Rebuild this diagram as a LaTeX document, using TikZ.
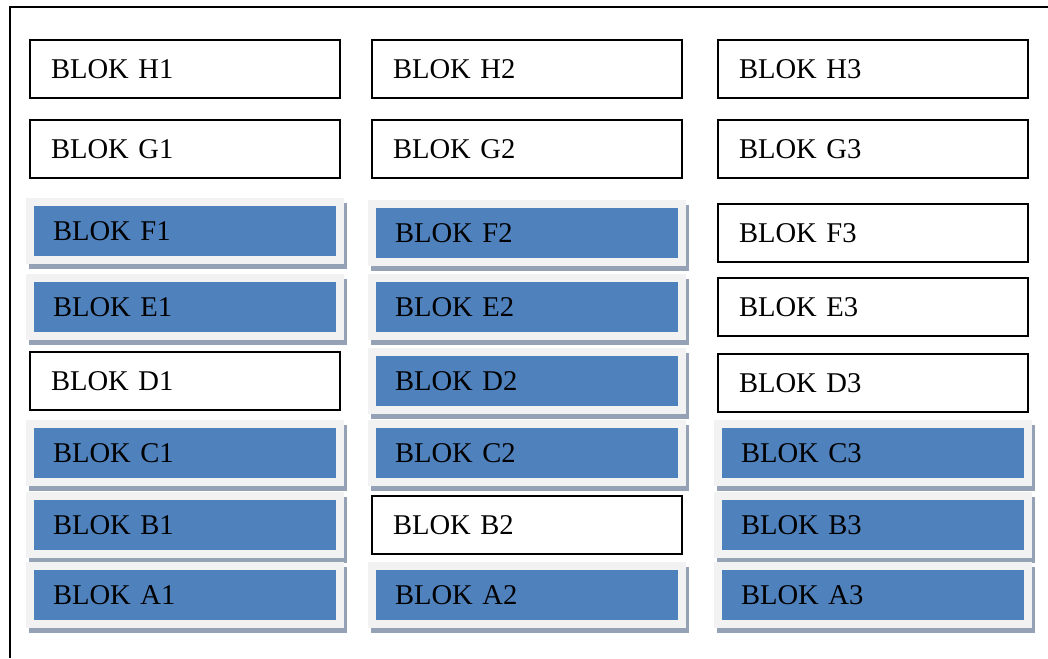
\documentclass[tikz,border=0pt]{standalone}
\usepackage{fontspec}
\setmainfont{Liberation Serif}
\usetikzlibrary{shadows}
\definecolor{blokblue}{RGB}{79,129,189}
\definecolor{bloklight}{RGB}{242,242,242}
\definecolor{blokshadow}{RGB}{149,161,180}
\newcommand{\widthplain}{155pt}
\newcommand{\widthfilled}{159pt}
\newcommand{\heightplain}{29pt}
\newcommand{\heightfilled}{33pt}
\tikzset{
    common/.style={anchor=north west, inner ysep=0pt, outer sep=0pt, align=left,
        font=\fontsize{14.3pt}{17pt}\selectfont},
    plain/.style={common, draw, line width=1pt, minimum width=\widthplain,
        minimum height=\heightplain, inner xsep=10.5pt, text width=134pt},
    filled/.style={common, fill=bloklight, minimum width=\widthfilled,
        minimum height=\heightfilled, inner xsep=13.5pt, text width=132pt,
        drop shadow={shadow xshift=1.25pt, shadow yshift=-2.5pt, fill=blokshadow, opacity=1},
        path picture={
            \fill[blokblue]
                ([shift={(4pt,4pt)}]path picture bounding box.south west)
                rectangle ([shift={(-4pt,-4pt)}]path picture bounding box.north east);
        }
    },
    frame/.style={line width=1pt}
}
\begin{document}
\begin{tikzpicture}[x=0.5pt, y=0.5pt]
        \useasboundingbox (0,0) rectangle (1048,-658);
        \draw[frame] (1048,-7) -| (10,-658);

        % column 1
        \path
            (30,-40) node[plain] (H1) {BLOK H1}
            to ++(0,-80) node[plain] (G1) {BLOK G1}
            to ++(-4,-78) node[filled] (F1) {BLOK F1}
            to ++(0,-76) node[filled] (E1) {BLOK E1}
            to ++(4,-78) node[plain] (D1) {BLOK D1}
            to ++(-4,-68) node[filled] (C1) {BLOK C1}
            to ++(0,-72) node[filled] (B1) {BLOK B1}
            to ++(0,-70) node[filled] (A1) {BLOK A1};

        % column 2
        \path
            (372,-40) node[plain] (H2) {BLOK H2}
            to ++(0,-80) node[plain] (G2) {BLOK G2}
            to ++(-4,-80) node[filled] (F2) {BLOK F2}
            to ++(0,-74) node[filled] (E2) {BLOK E2}
            to ++(0,-74) node[filled] (D2) {BLOK D2}
            to ++(0,-72) node[filled] (C2) {BLOK C2}
            to ++(4,-76) node[plain] (B2) {BLOK B2}
            to ++(-4,-66) node[filled] (A2) {BLOK A2};

        % column 3
        \path
            (718,-40) node[plain] (H3) {BLOK H3}
            to ++(0,-80) node[plain] (G3) {BLOK G3}
            to ++(0,-84) node[plain] (F3) {BLOK F3}
            to ++(0,-74) node[plain] (E3) {BLOK E3}
            to ++(0,-76) node[plain] (D3) {BLOK D3}
            to ++(-4,-66) node[filled] (C3) {BLOK C3}
            to ++(0,-72) node[filled] (B3) {BLOK B3}
            to ++(0,-70) node[filled] (A3) {BLOK A3};

    \end{tikzpicture}
\end{document}
